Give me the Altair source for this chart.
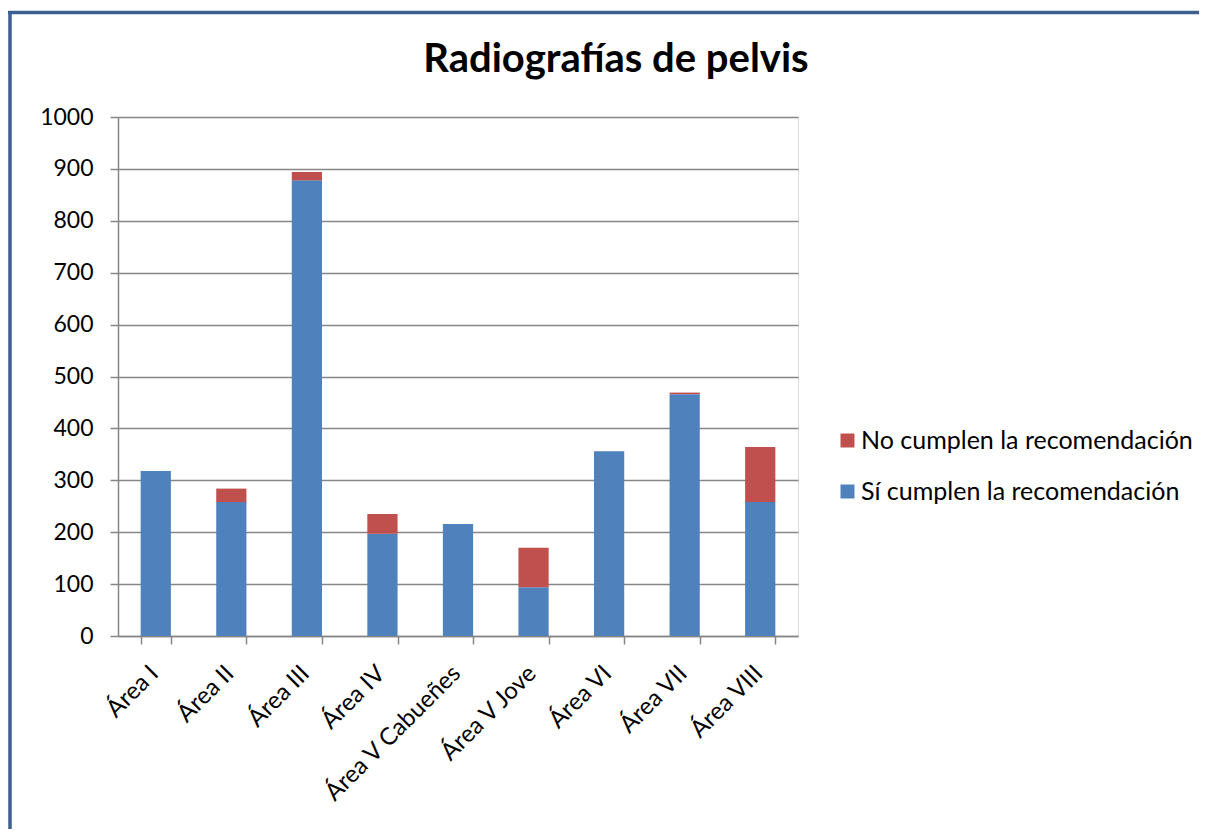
import altair as alt
import pandas as pd

title_text = ["Radiografías de pelvis"]
categories = ["Área I", "Área II", "Área III", "Área IV", "Área V Cabueñes",
              "Área V Jove", "Área VI", "Área VII", "Área VIII"]
si_cumplen = [318, 258, 878, 197, 216, 94, 356, 466, 258]
no_cumplen = [0, 26, 16, 38, 0, 76, 0, 3, 106]
series = ["No cumplen la recomendación", "Sí cumplen la recomendación"]
colors = ["#c0504d", "#4f81bd"]
y_ticks = [0, 100, 200, 300, 400, 500, 600, 700, 800, 900, 1000]

rows = []
for c, s, n in zip(categories, si_cumplen, no_cumplen):
    rows.append({"area": c, "serie": series[1], "valor": s, "ord": 0})
    rows.append({"area": c, "serie": series[0], "valor": n, "ord": 1})
df = pd.DataFrame(rows)

FONT = "Lato"
GRAY = "#868686"

bars = alt.Chart(df).mark_bar().encode(
    x=alt.X("area:N", sort=categories, title=None,
            scale=alt.Scale(paddingInner=0.6, paddingOuter=0.3),
            axis=alt.Axis(labelAngle=-45, labelFontSize=24, labelFont=FONT,
                          labelColor="#000000", labelPadding=17, labelOffset=-10,
                          labelLimit=0,
                          tickBand="extent", tickSize=8, tickColor=GRAY,
                          domainColor=GRAY, domainWidth=1.5, tickWidth=1.5)),
    y=alt.Y("valor:Q", stack="zero", title=None,
            scale=alt.Scale(domain=[0, 1000], nice=False),
            axis=alt.Axis(values=y_ticks, format="d", labelFontSize=23,
                          labelFont=FONT, labelColor="#000000", labelPadding=17,
                          tickSize=8, tickColor=GRAY, tickWidth=1.5,
                          domainColor=GRAY, domainWidth=1.5,
                          grid=True, gridColor=GRAY, gridWidth=1.5)),
    color=alt.Color("serie:N",
                    scale=alt.Scale(domain=series, range=colors),
                    legend=alt.Legend(title=None, orient="none",
                                      legendX=717, legendY=311,
                                      symbolType="square", symbolSize=196,
                                      symbolStrokeWidth=0, symbolOpacity=1,
                                      labelFontSize=25, labelFont=FONT,
                                      labelColor="#000000", labelOffset=1,
                                      labelLimit=0, rowPadding=25)),
    order=alt.Order("ord:Q", sort="ascending"),
)

title_df = pd.DataFrame({"t": title_text})
title = alt.Chart(title_df).mark_text(
    font=FONT, fontSize=40, fontWeight="bold", color="#000000",
    align="center", baseline="alphabetic").encode(
    text="t:N", x=alt.value(498), y=alt.value(-45))

frame_df = pd.DataFrame({"k": [0]})
left_line = alt.Chart(frame_df).mark_rule(color="#3c5f8e", strokeWidth=3.5).encode(
    x=alt.value(-108), y=alt.value(-105), y2=alt.value(720))
top_line = alt.Chart(frame_df).mark_rule(color="#3c5f8e", strokeWidth=3.5).encode(
    y=alt.value(-104.5), x=alt.value(-110), x2=alt.value(1100))

chart = alt.layer(bars, title, left_line, top_line).properties(
    width=680, height=519,
    autosize=alt.AutoSizeParams(type="none"),
    padding={"left": 110, "top": 109, "right": 401, "bottom": 193},
).configure_view(stroke=None).configure(background="#ffffff")

chart.save("out.html", embed_options={"renderer": "svg", "actions": False})
